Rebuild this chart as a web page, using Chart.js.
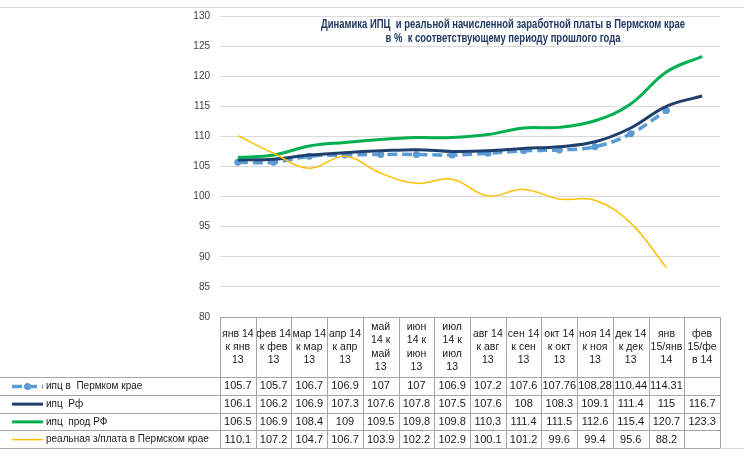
<!DOCTYPE html>
<html>
<head>
<meta charset="utf-8">
<script src="https://cdn.jsdelivr.net/npm/chart.js@4.4.1/dist/chart.umd.min.js"></script>
<style>
  html, body { margin: 0; padding: 0; background: #ffffff; }
  canvas { display: block; }
</style>
</head>
<body>
<canvas id="chart" width="744" height="467"></canvas>
<script>
// Categories (multi-line header cells of the data table)
const categories = [
  ['янв 14', 'к янв', '13'],
  ['фев 14', 'к фев', '13'],
  ['мар 14', 'к мар', '13'],
  ['апр 14', 'к апр', '13'],
  ['май', '14 к', 'май', '13'],
  ['июн', '14 к', 'июн', '13'],
  ['июл', '14 к', 'июл', '13'],
  ['авг 14', 'к авг', '13'],
  ['сен 14', 'к сен', '13'],
  ['окт 14', 'к окт', '13'],
  ['ноя 14', 'к ноя', '13'],
  ['дек 14', 'к дек', '13'],
  ['янв', '15/янв', '14'],
  ['фев', '15/фе', 'в 14'],
];

// Series values
const cpiPerm = [105.7, 105.7, 106.7, 106.9, 107, 107, 106.9, 107.2, 107.6, 107.76, 108.28, 110.44, 114.31, null];
const cpiRf = [106.1, 106.2, 106.9, 107.3, 107.6, 107.8, 107.5, 107.6, 108, 108.3, 109.1, 111.4, 115, 116.7];
const cpiFoodRf = [106.5, 106.9, 108.4, 109, 109.5, 109.8, 109.8, 110.3, 111.4, 111.5, 112.6, 115.4, 120.7, 123.3];
const realWage = [110.1, 107.2, 104.7, 106.7, 103.9, 102.2, 102.9, 100.1, 101.2, 99.6, 99.4, 95.6, 88.2, null];

const seriesNames = [
  'ипц в  Пермком крае',
  'ипц  Рф',
  'ипц  прод РФ',
  'реальная з/плата в Пермском крае',
];

const titleLines = [
  'Динамика ИПЦ  и реальной начисленной заработной платы в Пермском крае',
  'в %  к соответствующему периоду прошлого года',
];

const colors = {
  perm: '#5B9BD5',
  rf: '#213F6C',
  food: '#00B050',
  wage: '#FFC000',
  grid: '#d9d9d9',
  table: '#a6a6a6',
  text: '#1a1a1a',
  title: '#1F3864',
};

const TABLE_TOP = 377;
const ROW_H = 17.75;
const FONT = '"Liberation Sans", Arial, sans-serif';

// Draws the chart title, the frame lines and the Excel-like data table
const dataTable = {
  id: 'dataTable',
  afterDraw(c) {
    const ctx = c.ctx;
    const x = c.scales.x;
    const area = c.chartArea;
    const half = (x.getPixelForValue(1) - x.getPixelForValue(0)) / 2;
    const n = categories.length;
    const tableBottom = TABLE_TOP + ROW_H * 4;

    ctx.save();

    // Frame lines
    ctx.strokeStyle = '#d9d9d9';
    ctx.lineWidth = 1;
    ctx.beginPath();
    ctx.moveTo(0, 7.5); ctx.lineTo(744, 7.5);
    ctx.moveTo(0, Math.round(tableBottom) + 0.5); ctx.lineTo(744, Math.round(tableBottom) + 0.5);
    ctx.stroke();

    // Table borders
    ctx.strokeStyle = colors.table;
    ctx.beginPath();
    ctx.moveTo(area.left, Math.round(area.bottom) + 0.5);
    ctx.lineTo(area.right, Math.round(area.bottom) + 0.5);
    for (let i = 0; i <= n; i++) {
      const px = Math.round(x.getPixelForValue(i) - half) + 0.5;
      ctx.moveTo(px, area.bottom);
      ctx.lineTo(px, tableBottom);
    }
    for (let r = 0; r <= 4; r++) {
      const py = Math.round(TABLE_TOP + r * ROW_H) + 0.5;
      ctx.moveTo(0, py);
      ctx.lineTo(area.right, py);
    }
    ctx.stroke();

    // Values
    ctx.font = '11px ' + FONT;
    ctx.fillStyle = colors.text;
    ctx.textAlign = 'center';
    ctx.textBaseline = 'middle';
    c.data.datasets.forEach((ds, r) => {
      const cy = TABLE_TOP + r * ROW_H + ROW_H / 2 + 0.5;
      ds.data.forEach((v, i) => {
        if (v === null) return;
        ctx.fillText(String(v), x.getPixelForValue(i), cy);
      });
    });

    // Legend keys + names
    ctx.font = '10px ' + FONT;
    ctx.textAlign = 'left';
    c.data.datasets.forEach((ds, r) => {
      const cy = TABLE_TOP + r * ROW_H + ROW_H / 2 + 0.5;
      ctx.save();
      ctx.strokeStyle = ds.borderColor;
      ctx.lineWidth = ds.borderWidth;
      ctx.setLineDash(ds.borderDash || []);
      ctx.beginPath();
      ctx.moveTo(12, cy);
      ctx.lineTo(43, cy);
      ctx.stroke();
      if (ds.pointRadius) {
        ctx.fillStyle = ds.borderColor;
        ctx.beginPath();
        ctx.arc(27.5, cy, ds.pointRadius, 0, Math.PI * 2);
        ctx.fill();
      }
      ctx.restore();
      ctx.fillText(seriesNames[r], 46, cy);
    });

    // Title (narrowed to mimic a condensed bold face)
    ctx.font = 'bold 12px ' + FONT;
    ctx.fillStyle = colors.title;
    ctx.textAlign = 'center';
    const squeeze = 364 / ctx.measureText(titleLines[0]).width;
    ctx.translate(503, 0);
    ctx.scale(squeeze, 1);
    ctx.fillText(titleLines[0], 0, 25);
    ctx.fillText(titleLines[1], 0, 39);

    ctx.restore();
  },
};

new Chart(document.getElementById('chart'), {
  type: 'line',
  data: {
    labels: categories,
    datasets: [
      {
        label: seriesNames[0],
        data: cpiPerm,
        borderColor: colors.perm,
        backgroundColor: colors.perm,
        borderWidth: 3.5,
        borderDash: [10, 5],
        pointRadius: 3.5,
        pointBorderWidth: 0,
        pointBackgroundColor: colors.perm,
        tension: 0.4,
        order: 3,
      },
      {
        label: seriesNames[1],
        data: cpiRf,
        borderColor: colors.rf,
        borderWidth: 3,
        pointRadius: 0,
        tension: 0.4,
        order: 2,
      },
      {
        label: seriesNames[2],
        data: cpiFoodRf,
        borderColor: colors.food,
        borderWidth: 3,
        pointRadius: 0,
        tension: 0.4,
        order: 1,
      },
      {
        label: seriesNames[3],
        data: realWage,
        borderColor: colors.wage,
        borderWidth: 1.5,
        pointRadius: 0,
        tension: 0.4,
        order: 0,
      },
    ],
  },
  options: {
    responsive: false,
    animation: false,
    devicePixelRatio: 1,
    layout: {
      padding: { top: 13, right: 24, bottom: 90, left: 0 },
    },
    plugins: {
      legend: { display: false },
      tooltip: { enabled: false },
    },
    scales: {
      x: {
        offset: true,
        grid: { display: false },
        border: { display: false },
        afterFit(scale) { scale.height = 60; },
        ticks: {
          autoSkip: false,
          maxRotation: 0,
          padding: 2,
          crossAlign: 'center',
          color: '#1a1a1a',
          font: { family: FONT, size: 10.5, lineHeight: 1.28 },
        },
      },
      y: {
        min: 80,
        max: 130,
        afterFit(scale) { scale.width = 220; },
        grid: { color: colors.grid, drawTicks: false },
        border: { display: false },
        ticks: {
          stepSize: 5,
          padding: 10,
          color: '#404040',
          font: { family: FONT, size: 10 },
        },
      },
    },
  },
  plugins: [dataTable],
});
</script>
</body>
</html>
